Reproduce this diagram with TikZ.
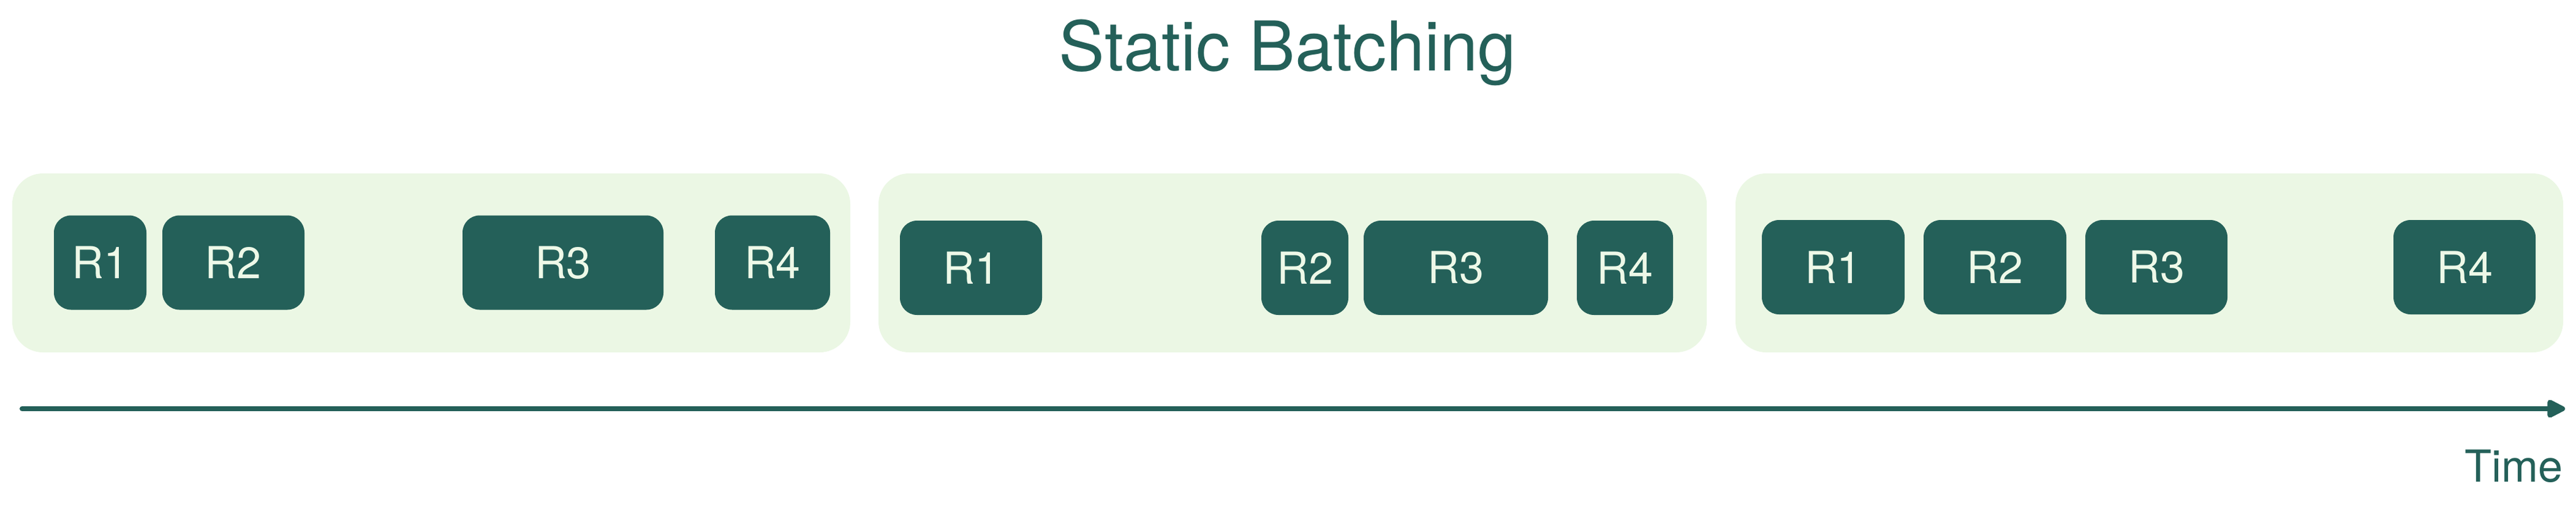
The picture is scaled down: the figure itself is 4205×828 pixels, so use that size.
\documentclass[tikz,border=0pt]{standalone}
\usepackage{fontspec}
\setmainfont{TeX Gyre Heros}
\usetikzlibrary{arrows.meta}
\definecolor{teal}{RGB}{36,96,89}
\definecolor{panelfill}{RGB}{235,247,228}
\definecolor{boxtext}{RGB}{238,249,232}
\tikzset{
  panel/.style={rectangle, fill=panelfill, draw=none, rounded corners=12.5pt, inner sep=0pt, minimum height=73pt},
  reqbox/.style={rectangle, fill=teal, draw=none, rounded corners=7pt, inner sep=0pt, minimum height=38.5pt,
    text=boxtext, font=\fontsize{18}{20}\selectfont},
  timeline/.style={draw=teal, line width=2pt, line cap=round, -{Triangle[length=8.5pt, width=8pt, round]}},
  lbl/.style={text=teal, inner sep=0pt}
}
\begin{document}
\begin{tikzpicture}[x=0.25pt, y=-0.25pt]
\useasboundingbox (0,0) rectangle (4205,828);
% title
\node[lbl, anchor=base, font=\fontsize{28}{32}\selectfont] (title) at (2102,115) {Static Batching};
% panels
\node[panel, minimum width=342pt] (p1) at (704,429) {};
\node[panel, minimum width=338pt] (p2) at (2110,429) {};
\node[panel, minimum width=337.75pt] (p3) at (3508.5,429) {};
% batch 1
\node[reqbox, minimum width=37.75pt] (a1) at (163.5,428.5) {R1};
\node[reqbox, minimum width=58pt] (a2) at (381,428.5) {R2};
\node[reqbox, minimum width=82pt] (a3) at (919,428.5) {R3};
\node[reqbox, minimum width=47pt] (a4) at (1261,428.5) {R4};
% batch 2
\node[reqbox, minimum width=58pt] (b1) at (1585,437) {R1};
\node[reqbox, minimum width=35.5pt] (b2) at (2130,437) {R2};
\node[reqbox, minimum width=75.25pt] (b3) at (2376.5,437) {R3};
\node[reqbox, minimum width=39.25pt] (b4) at (2652.5,437) {R4};
% batch 3
\node[reqbox, minimum width=58.25pt] (c1) at (2992.5,436) {R1};
\node[reqbox, minimum width=58.25pt] (c2) at (3256.5,436) {R2};
\node[reqbox, minimum width=58pt] (c3) at (3520,436) {R3};
\node[reqbox, minimum width=58pt] (c4) at (4023,436) {R4};
% time axis
\coordinate (tstart) at (36,667);
\coordinate (tend) at (4187,667);
\draw[timeline] (tstart) -- (tend);
\node[lbl, anchor=base east, font=\fontsize{18}{20}\selectfont] (time) at (4184,786) {Time};
\end{tikzpicture}
\end{document}
